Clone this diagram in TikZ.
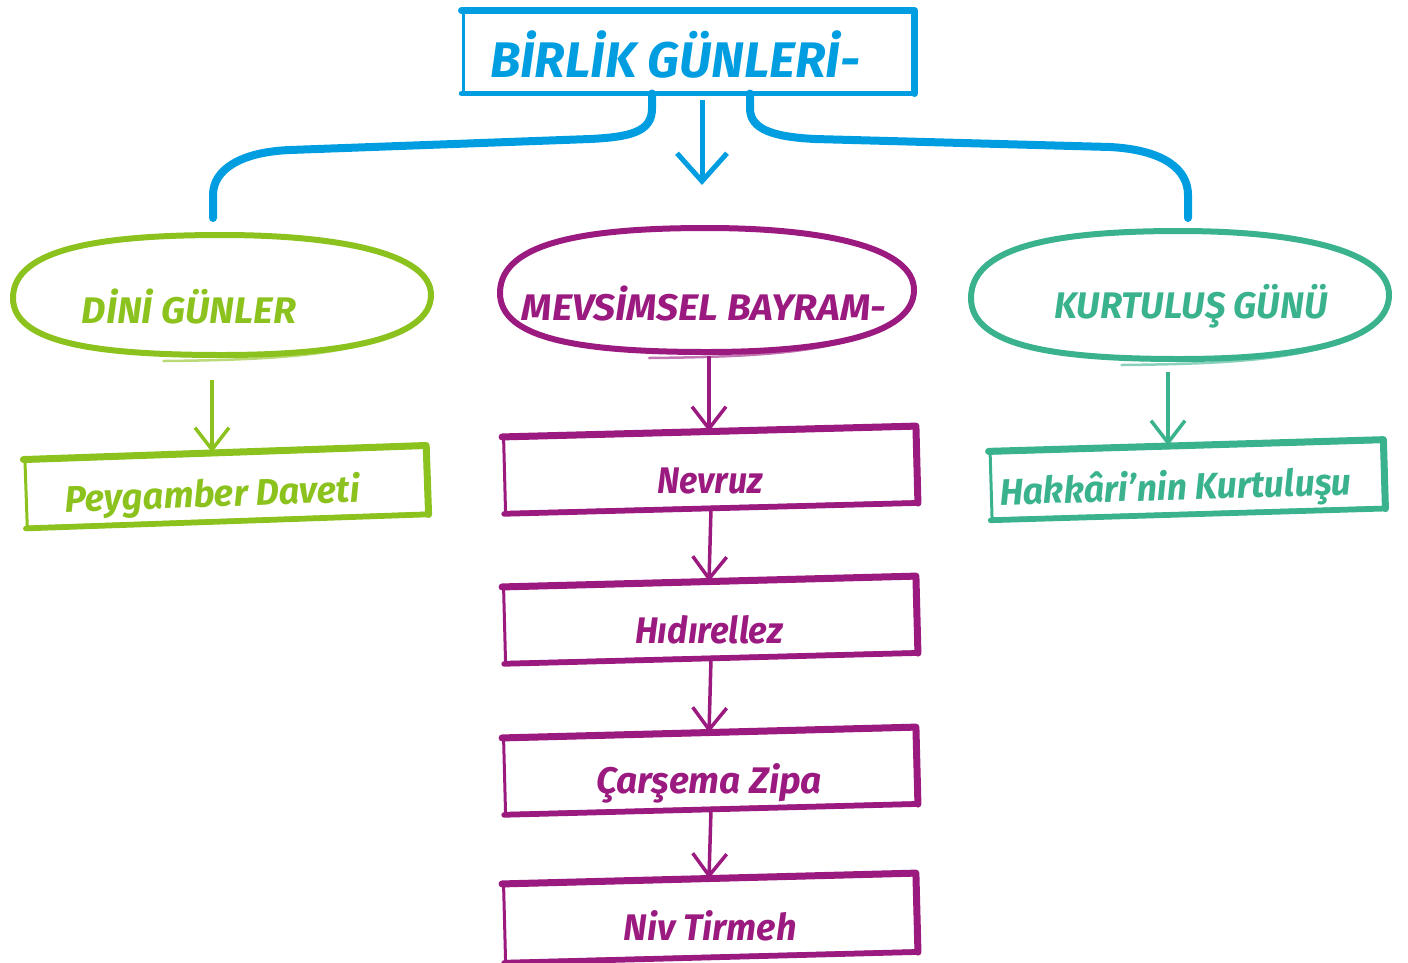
\documentclass[tikz,border=0pt]{standalone}
\usepackage{fontspec}
\setmainfont{Fira Sans}
\usetikzlibrary{shapes.geometric,arrows.meta}
\definecolor{cblue}{HTML}{009EE0}
\definecolor{cgreen}{HTML}{8CC21E}
\definecolor{cteal}{HTML}{3AB28E}
\definecolor{cpurple}{HTML}{9A1A80}
\newcommand\fitw[2]{\resizebox{#1pt}{\height}{#2}}
\newcommand\sketchbox[1]{%
  \draw[line width=7pt,line cap=round,line join=round] (#1.north west) -- (#1.north east) -- (#1.south east);
  \draw[line width=5.5pt,line cap=round] (#1.south east) -- (#1.south west);}
% boxy hand-drawn oval around a node: name, half width, half height
\newcommand\blob[3]{%
  \begin{scope}[shift={(#1.center)}]
  \draw[line width=6pt,line join=round]
    (-#2,-3) .. controls (-#2,0.8*#3) and (-0.55*#2,#3) .. (0,#3)
    .. controls (0.55*#2,#3) and (#2,0.7*#3) .. (#2,0)
    .. controls (#2,-0.75*#3) and (0.55*#2,-#3) .. (0,-#3)
    .. controls (-0.6*#2,-#3) and (-#2,-0.8*#3) .. cycle;
  \draw[line width=2.5pt,opacity=0.6,line cap=round]
    (-0.28*#2,-#3-6) .. controls (0.2*#2,-#3-5) and (0.5*#2,-#3-1) .. (0.72*#2,-0.78*#3);
  \end{scope}}
\begin{document}
\begin{tikzpicture}[x=1pt,y=1pt,
  bx/.style={draw,line width=3pt,rectangle,inner sep=0pt},
  ell/.style={ellipse,inner sep=0pt},
  txt/.style={font=\bfseries\itshape\fontsize{37}{40}\selectfont,inner sep=0pt,anchor=base},
  bline/.style={cblue,line width=8pt,line cap=round},
  arr/.style={line width=3.5pt,-{Straight Barb[length=22pt,width=34pt]}},
]
\useasboundingbox (0,0) rectangle (1408,-962);

% title
\node[bx,cblue,minimum width=450pt,minimum height=80pt] (title) at (688,-52) {};
\begin{scope}[cblue]\sketchbox{title}\end{scope}
\node[txt,cblue,font=\bfseries\itshape\fontsize{50}{54}\selectfont] (ttext) at (675,-77) {\fitw{370}{BİRLİK GÜNLERİ-}};

% connectors from title
\coordinate (lstart) at ([xshift=-36pt]title.south);
\coordinate (rstart) at ([xshift=62pt]title.south);
\coordinate (lend) at (213,-218);
\coordinate (rend) at (1188,-218);
\coordinate (mstart) at (702,-100);
\coordinate (mend) at (702,-185);
\draw[bline] (lstart) -- ++(0,-15) .. controls (652,-132) and (630,-137) .. (590,-139) -- (290,-150) .. controls (240,-152) and (213,-170) .. (213,-195) -- (lend);
\draw[bline] (rstart) -- ++(0,-15) .. controls (750,-130) and (775,-137) .. (815,-139) -- (1110,-147) .. controls (1165,-150) and (1188,-170) .. (1188,-195) -- (rend);
\draw[cblue,line width=5pt,-{Straight Barb[length=28pt,width=50pt]}] (mstart) -- (mend);

% ovals
\node[ell,minimum width=420pt,minimum height=120pt] (dini) at (222,-295) {};
\begin{scope}[cgreen]\blob{dini}{209}{60}\end{scope}
\node[txt,cgreen] (dinit) at (189,-323) {\fitw{214}{DİNİ GÜNLER}};

\node[ell,minimum width=416pt,minimum height=124pt] (mevs) at (707,-290) {};
\begin{scope}[cpurple]\blob{mevs}{207}{62}\end{scope}
\node[txt,cpurple] (mevst) at (704,-320) {\fitw{364}{MEVSİMSEL BAYRAM-}};

\node[ell,minimum width=420pt,minimum height=128pt] (kurt) at (1180,-295) {};
\begin{scope}[cteal]\blob{kurt}{209}{64}\end{scope}
\node[txt,cteal] (kurtt) at (1191,-318) {\fitw{273}{KURTULUŞ GÜNÜ}};

% left box
\node[bx,cgreen,minimum width=400pt,minimum height=66pt,rotate=2] (pey) at (226,-487) {};
\begin{scope}[cgreen]\sketchbox{pey}\end{scope}
\node[txt,cgreen,rotate=2] (peyt) at (213,-507) {\fitw{295}{Peygamber Daveti}};
\draw[cgreen,arr] (212,-380) -- (pey.north -| 212,0);

% right box
\node[bx,cteal,minimum width=392pt,minimum height=66pt,rotate=1.7] (hak) at (1187,-480) {};
\begin{scope}[cteal]\sketchbox{hak}\end{scope}
\node[txt,cteal,rotate=1.7] (hakt) at (1176,-500) {\fitw{352}{Hakkâri’nin Kurtuluşu}};
\draw[cteal,arr] (1168,-372) -- (hak.north -| 1168,0);

% purple chain
\node[bx,cpurple,minimum width=411pt,minimum height=74pt,rotate=1.5] (nev) at (710,-470) {};
\node[bx,cpurple,minimum width=411pt,minimum height=74pt,rotate=1.5] (hid) at (710,-620) {};
\node[bx,cpurple,minimum width=411pt,minimum height=74pt,rotate=1.5] (car) at (710,-771) {};
\node[bx,cpurple,minimum width=411pt,minimum height=76pt,rotate=1.5] (niv) at (710,-918) {};
\begin{scope}[cpurple]\sketchbox{nev}\sketchbox{hid}\sketchbox{car}\sketchbox{niv}\end{scope}
\node[txt,cpurple] (nevt) at (710,-493) {\fitw{105}{Nevruz}};
\node[txt,cpurple] (hidt) at (709,-643) {\fitw{148}{Hıdırellez}};
\node[txt,cpurple] (cart) at (709,-793) {\fitw{226}{Çarşema Zipa}};
\node[txt,cpurple] (nivt) at (710,-940) {\fitw{173}{Niv Tirmeh}};

\draw[cpurple,arr] ([yshift=-4pt]mevs.south -| nev.north) -- (nev.north);
\draw[cpurple,arr] (nev.south) -- (hid.north);
\draw[cpurple,arr] (hid.south) -- (car.north);
\draw[cpurple,arr] (car.south) -- (niv.north);
\end{tikzpicture}
\end{document}
